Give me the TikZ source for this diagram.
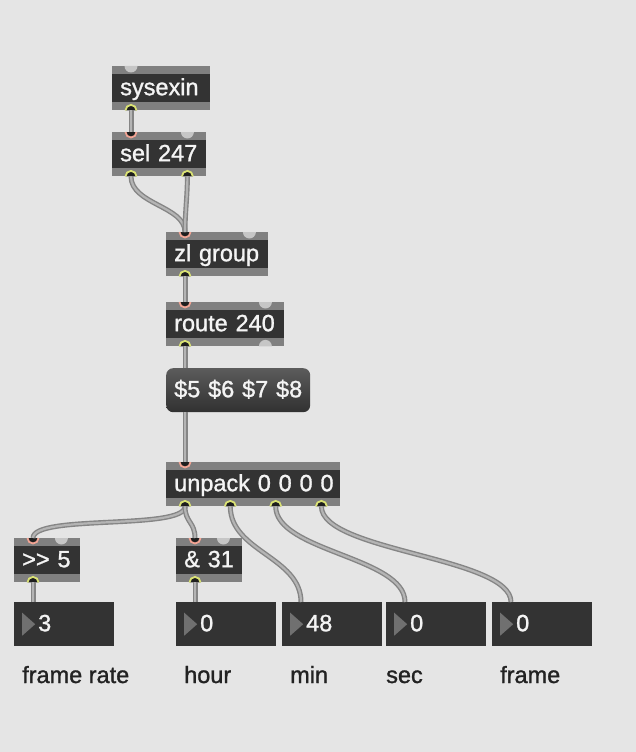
\documentclass[tikz,border=0pt]{standalone}
\usepackage{fontspec}
\setmainfont{Liberation Sans}
\newfontfamily\patchface{Liberation Sans}[RawFeature={embolden=1.2}]

\definecolor{patchbg}{HTML}{E5E5E5}
\definecolor{objdark}{HTML}{333333}
\definecolor{stripgray}{HTML}{808080}
\definecolor{objtext}{HTML}{F4F4F4}
\definecolor{cordedge}{HTML}{858585}
\definecolor{cordfill}{HTML}{B4B4B4}
\definecolor{portpink}{HTML}{F2A494}
\definecolor{portyellow}{HTML}{DAE274}
\definecolor{portdark}{HTML}{1E1E1E}
\definecolor{portfree}{HTML}{C6C6C6}
\definecolor{numtri}{HTML}{707070}
\definecolor{labeltext}{HTML}{222222}

\newcommand\patchfont{\patchface\fontsize{23.5}{27}\selectfont}

\begin{document}
\begin{tikzpicture}[x=1pt,y=-1pt,
    obj/.style={anchor=north west, fill=objdark, text=objtext, font=\patchfont,
      inner xsep=8pt, inner ysep=11pt, text height=18pt, text depth=4pt,
      align=left, text width=#1,
      execute at begin node=\hbox\bgroup, execute at end node=\egroup,
      path picture={
        \fill[stripgray] (path picture bounding box.north west) rectangle ([yshift=-8pt]path picture bounding box.north east);
        \fill[stripgray] (path picture bounding box.south west) rectangle ([yshift=8pt]path picture bounding box.south east);
      }},
    msgbox/.style={anchor=north west, rounded corners=7pt, top color=objdark!80!white, bottom color=objdark!95!black,
      text=objtext, font=\patchfont, inner xsep=8pt, inner ysep=11pt,
      text height=18pt, text depth=4pt, align=left, text width=#1,
      execute at begin node=\hbox\bgroup, execute at end node=\egroup},
    numbox/.style={anchor=north west, fill=objdark, text=objtext, font=\patchfont,
      inner xsep=24pt, inner ysep=11pt, text height=18pt, text depth=4pt,
      align=left, text width=52pt,
      path picture={
        \fill[numtri] ([xshift=8pt,yshift=11.5pt]path picture bounding box.west) -- ([xshift=8pt,yshift=-11.5pt]path picture bounding box.west) -- ([xshift=21pt]path picture bounding box.west) -- cycle;
      }},
    caption/.style={anchor=base west, text=labeltext, font=\patchfont, inner sep=0pt},
    patchcord/.style={draw=cordedge, line width=5pt, postaction={draw=cordfill, line width=2.2pt}}
  ]

  % Background
  \fill[patchbg] (0,0) rectangle (636,752);

  % Objects
  \node[obj=82pt] (sysexin) at (112,66) {sysexin};
  \node[obj=78pt] (sel) at (112,132) {sel 247};
  \node[obj=86pt] (zlgroup) at (166,232) {zl group};
  \node[obj=102pt] (route) at (166,302) {route 240};
  \node[msgbox=128pt] (msg) at (166,368) {\$5 \$6 \$7 \$8};
  \node[obj=158pt] (unpack) at (166,462) {unpack 0 0 0 0};
  \node[obj=50pt] (shift) at (14,538) {>\kern0pt> 5};
  \node[obj=50pt] (mask) at (176,538) {\& 31};

  % Number boxes
  \node[numbox] (nframerate) at (14,602) {3};
  \node[numbox] (nhour) at (176,602) {0};
  \node[numbox] (nmin) at (282,602) {48};
  \node[numbox] (nsec) at (386,602) {0};
  \node[numbox] (nframe) at (492,602) {0};

  % Comments
  \node[caption] (lframerate) at (22,683) {frame rate};
  \node[caption] (lhour) at (184,683) {hour};
  \node[caption] (lmin) at (290,683) {min};
  \node[caption] (lsec) at (386,683) {sec};
  \node[caption] (lframe) at (500,683) {frame};

  % Inlets and outlets
  \foreach \o in {sysexin,sel,zlgroup,route,unpack,shift,mask} {
    \coordinate (\o-in) at ([xshift=19pt]\o.north west);
    \coordinate (\o-inr) at ([xshift=-19pt]\o.north east);
    \coordinate (\o-out) at ([xshift=19pt]\o.south west);
  }
  \coordinate (sel-outr) at ([xshift=-19pt]sel.south east);
  \coordinate (route-outr) at ([xshift=-19pt]route.south east);
  \coordinate (unpack-out2) at ([xshift=64.3pt]unpack.south west);
  \coordinate (unpack-out3) at ([xshift=109.7pt]unpack.south west);
  \coordinate (unpack-out4) at ([xshift=-19pt]unpack.south east);
  \coordinate (msg-in) at ([xshift=19pt]msg.north west);
  \coordinate (msg-out) at ([xshift=19pt]msg.south west);
  \foreach \n in {nframerate,nhour,nmin,nsec,nframe}
    \coordinate (\n-in) at ([xshift=19pt]\n.north west);

  % free ports
  \foreach \p in {sysexin-in,sel-inr,zlgroup-inr,route-inr,shift-inr,mask-inr}
    \fill[portfree] ([xshift=-6.5pt]\p) arc[start angle=180, end angle=360, radius=6.5pt] -- cycle;
  \fill[portfree] ([xshift=-6.5pt]route-outr) arc[start angle=180, end angle=0, radius=6.5pt] -- cycle;
  % connected inlets
  \foreach \p in {sel-in,zlgroup-in,route-in,unpack-in,shift-in,mask-in} {
    \fill[portdark] ([xshift=-5.5pt]\p) arc[start angle=180, end angle=360, radius=5.5pt] -- cycle;
    \draw[portpink, line width=1.8pt] ([xshift=-5.5pt]\p) arc[start angle=180, end angle=360, radius=5.5pt];
  }
  % connected outlets
  \foreach \p in {sysexin-out,sel-out,sel-outr,zlgroup-out,route-out,unpack-out,unpack-out2,unpack-out3,unpack-out4,shift-out,mask-out} {
    \fill[portdark] ([xshift=-5.5pt]\p) arc[start angle=180, end angle=0, radius=5.5pt] -- cycle;
    \draw[portyellow, line width=1.8pt] ([xshift=-5.5pt]\p) arc[start angle=180, end angle=0, radius=5.5pt];
  }

  % Patch cords
  \draw[patchcord] (sysexin-out) -- (sel-in);
  \draw[patchcord] (sel-out) .. controls +(0,28) and +(0,-26) .. (zlgroup-in);
  \draw[patchcord] (sel-outr) .. controls +(0,20) and +(0,-20) .. (zlgroup-in);
  \draw[patchcord] (zlgroup-out) -- (route-in);
  \draw[patchcord] (route-out) -- (msg-in);
  \draw[patchcord] (msg-out) -- (unpack-in);
  \draw[patchcord] (unpack-out) .. controls +(0,24) and +(0,-24) .. (shift-in);
  \draw[patchcord] (unpack-out) .. controls +(0,16) and +(0,-16) .. (mask-in);
  \draw[patchcord] (unpack-out2) .. controls +(0,45) and +(0,-45) .. (nmin-in);
  \draw[patchcord] (unpack-out3) .. controls +(0,45) and +(0,-45) .. (nsec-in);
  \draw[patchcord] (unpack-out4) .. controls +(0,45) and +(0,-45) .. (nframe-in);
  \draw[patchcord] (shift-out) -- (nframerate-in);
  \draw[patchcord] (mask-out) -- (nhour-in);
\end{tikzpicture}
\end{document}
